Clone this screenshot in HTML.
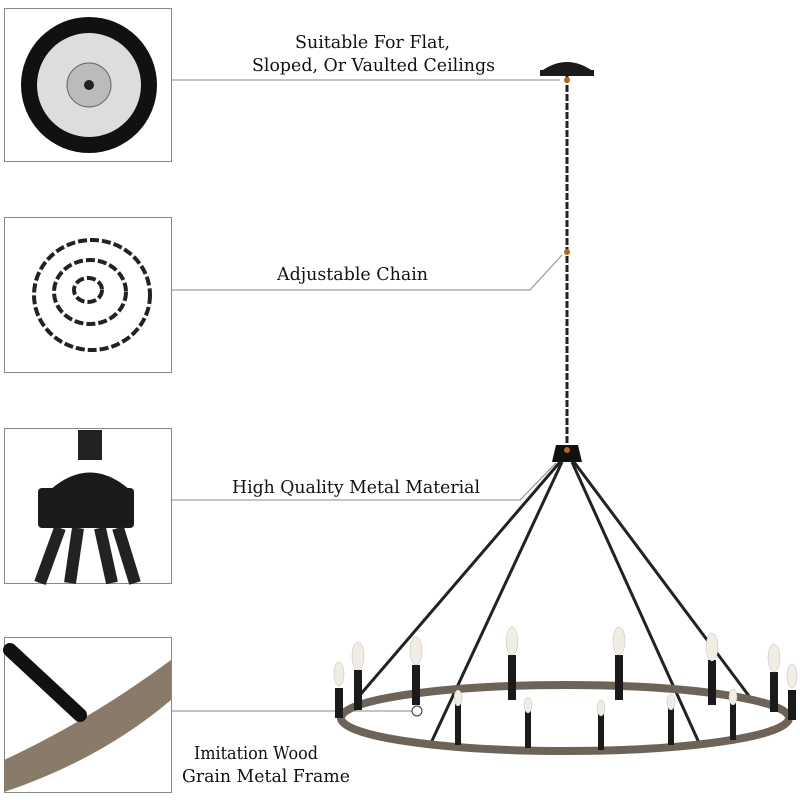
<!DOCTYPE html>
<html><head><meta charset="utf-8"><style>
body{margin:0;background:#fff;}
svg{display:block}
text{font-family:"DejaVu Serif","Liberation Serif",serif;font-size:18px;fill:#111;}
</style></head><body>
<svg width="800" height="800" viewBox="0 0 800 800" xmlns="http://www.w3.org/2000/svg">
<g fill="none" stroke="#888" stroke-width="1">
<rect x="4.5" y="8.5" width="167" height="153"/>
<rect x="4.5" y="217.5" width="167" height="155"/>
<rect x="4.5" y="428.5" width="167" height="155"/>
<rect x="4.5" y="637.5" width="167" height="155"/>
<polyline points="171,80 560,80"/>
<polyline points="171,290 530,290 562,255"/>
<polyline points="171,500 520,500 556,463"/>
<polyline points="171,711 412,711"/>
</g>
<text x="295" y="48" textLength="155" lengthAdjust="spacingAndGlyphs">Suitable For Flat,</text>
<text x="252" y="71" textLength="243" lengthAdjust="spacingAndGlyphs">Sloped, Or Vaulted Ceilings</text>
<text x="277" y="280" textLength="151" lengthAdjust="spacingAndGlyphs">Adjustable Chain</text>
<text x="232" y="493" textLength="248" lengthAdjust="spacingAndGlyphs">High Quality Metal Material</text>
<text x="194" y="759" textLength="124" lengthAdjust="spacingAndGlyphs">Imitation Wood</text>
<text x="182" y="782" textLength="168" lengthAdjust="spacingAndGlyphs">Grain Metal Frame</text>
<!-- box1 -->
<circle cx="89" cy="85" r="68" fill="#111"/>
<circle cx="89" cy="85" r="52" fill="#ddd"/>
<circle cx="89" cy="85" r="22" fill="#bbb" stroke="#666"/>
<circle cx="89" cy="85" r="5" fill="#222"/>
<!-- box2 -->
<g fill="none" stroke="#222" stroke-width="4" stroke-dasharray="9 3">
<ellipse cx="92" cy="295" rx="58" ry="55"/>
<ellipse cx="90" cy="292" rx="36" ry="32"/>
<ellipse cx="88" cy="290" rx="14" ry="12"/>
</g>
<!-- box3 -->
<rect x="78" y="430" width="24" height="30" fill="#222"/>
<path d="M50 490 Q90 455 130 490 Z" fill="#1a1a1a"/>
<rect x="38" y="488" width="96" height="40" rx="4" fill="#1a1a1a"/>
<path d="M60 528 L40 583 M78 528 L70 583 M100 528 L112 583 M118 528 L135 583" stroke="#222" stroke-width="12"/>
<!-- box4 -->
<path d="M4 760 Q90 720 171 660 L171 700 Q100 760 4 792 Z" fill="#8a7a6a"/>
<path d="M10 650 L80 715" stroke="#111" stroke-width="14" stroke-linecap="round"/>
<!-- chandelier -->
<path d="M540 72 Q567 52 594 72 Z" fill="#1a1a1a"/>
<rect x="540" y="70" width="54" height="6" fill="#1a1a1a"/>
<line x1="567" y1="76" x2="567" y2="445" stroke="#222" stroke-width="3" stroke-dasharray="7 2"/>
<circle cx="567" cy="80" r="3" fill="#b5651d"/>
<circle cx="567" cy="252" r="3" fill="#b5651d"/>
<path d="M556 445 L578 445 L582 462 L552 462 Z" fill="#111"/>
<circle cx="567" cy="450" r="3" fill="#b5651d"/>
<g stroke="#222" stroke-width="3">
<line x1="560" y1="462" x2="360" y2="695"/>
<line x1="562" y1="462" x2="430" y2="745"/>
<line x1="572" y1="462" x2="700" y2="745"/>
<line x1="574" y1="462" x2="752" y2="700"/>
</g>
<ellipse cx="565" cy="718" rx="224" ry="33" fill="none" stroke="#6e6358" stroke-width="8"/>
<g fill="#1a1a1a">
<rect x="335" y="688" width="8" height="30"/><rect x="354" y="670" width="8" height="40"/>
<rect x="412" y="665" width="8" height="40"/><rect x="508" y="655" width="8" height="45"/>
<rect x="615" y="655" width="8" height="45"/><rect x="708" y="660" width="8" height="45"/>
<rect x="770" y="672" width="8" height="40"/><rect x="788" y="690" width="8" height="30"/>
<rect x="455" y="700" width="6" height="45"/><rect x="525" y="710" width="6" height="38"/>
<rect x="598" y="712" width="6" height="38"/><rect x="668" y="705" width="6" height="40"/>
<rect x="730" y="700" width="6" height="40"/>
</g>
<g fill="#f2ede4" stroke="#bbb" stroke-width="0.5">
<ellipse cx="339" cy="674" rx="5" ry="12"/><ellipse cx="358" cy="656" rx="6" ry="14"/>
<ellipse cx="416" cy="651" rx="6" ry="14"/><ellipse cx="512" cy="641" rx="6" ry="14"/>
<ellipse cx="619" cy="641" rx="6" ry="14"/><ellipse cx="712" cy="647" rx="6" ry="14"/>
<ellipse cx="774" cy="658" rx="6" ry="14"/><ellipse cx="792" cy="676" rx="5" ry="12"/>
<ellipse cx="458" cy="698" rx="4" ry="8"/><ellipse cx="528" cy="705" rx="4" ry="8"/>
<ellipse cx="601" cy="708" rx="4" ry="8"/><ellipse cx="671" cy="702" rx="4" ry="8"/>
<ellipse cx="733" cy="697" rx="4" ry="8"/>
</g>
<circle cx="417" cy="711" r="5" fill="#fff" stroke="#333"/>
</svg>
</body></html>
